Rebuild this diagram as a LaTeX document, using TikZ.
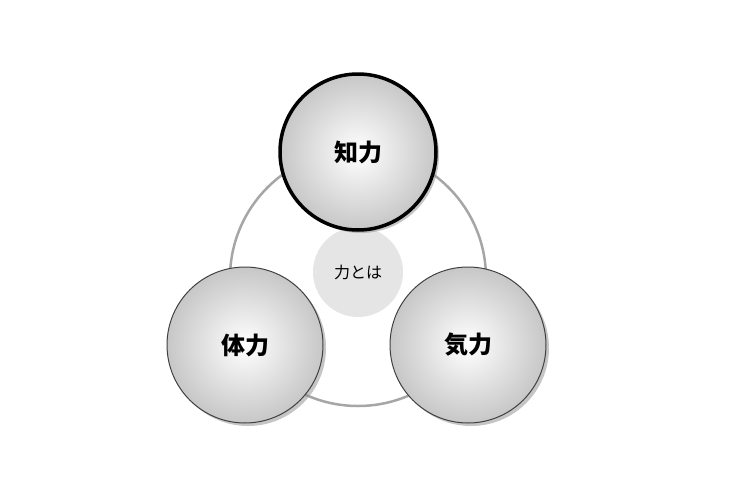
\documentclass[tikz,border=0pt]{standalone}
\usepackage{fontspec}
\newfontfamily\cjk{Noto Sans CJK JP}
\usetikzlibrary{shadows}
\begin{document}
\begin{tikzpicture}[x=1pt,y=-1pt,
  ball/.style={circle,minimum size=156pt,draw=black!75,line width=1pt,inner color=white,outer color=black!22,
    drop shadow={shadow xshift=3pt,shadow yshift=-3pt,fill=black!45},font=\cjk\bfseries\fontsize{24}{24}\selectfont}]
\useasboundingbox (0,0) rectangle (740,490);
\node[circle,minimum size=256pt,draw=black!35,line width=2.5pt] (ring) at (358,278) {};
\node[circle,minimum size=90pt,fill=black!10,font=\cjk\fontsize{16}{16}\selectfont] (c) at (358,272) {力とは};
\node[ball] (l) at (245,345) {体力};
\node[ball] (r) at (468,345) {気力};
\node[ball,line width=3.5pt,draw=black] (t) at (358,152) {知力};
\end{tikzpicture}
\end{document}
